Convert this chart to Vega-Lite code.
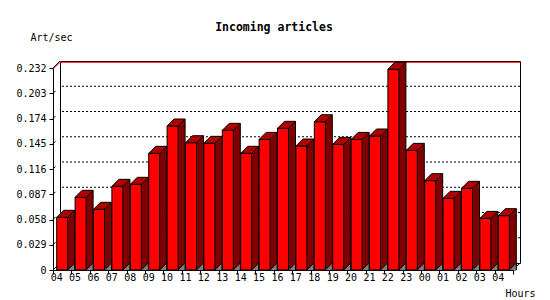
{
  "$schema": "https://vega.github.io/schema/vega-lite/v6.json",
  "width": 460,
  "height": 202,
  "autosize": "none",
  "padding": {"left": 60, "top": 61, "right": 30, "bottom": 37},
  "background": "white",
  "config": {
    "view": {"stroke": "black", "strokeWidth": 1, "fill": "white"},
    "font": "DejaVu Sans Mono"
  },
  "title": {
    "text": "Incoming articles",
    "font": "DejaVu Sans Mono",
    "fontSize": 11.5,
    "fontWeight": "bold",
    "color": "black",
    "anchor": "middle",
    "dx": -16,
    "baseline": "alphabetic",
    "offset": -10
  },
  "datasets": {
    "bars": [
      {"slot": 0, "hour": "04", "value": 0.0605},
      {"slot": 1, "hour": "05", "value": 0.0835},
      {"slot": 2, "hour": "06", "value": 0.0697},
      {"slot": 3, "hour": "07", "value": 0.0961},
      {"slot": 4, "hour": "08", "value": 0.0984},
      {"slot": 5, "hour": "09", "value": 0.134},
      {"slot": 6, "hour": "10", "value": 0.1654},
      {"slot": 7, "hour": "11", "value": 0.1462},
      {"slot": 8, "hour": "12", "value": 0.1455},
      {"slot": 9, "hour": "13", "value": 0.1604},
      {"slot": 10, "hour": "14", "value": 0.134},
      {"slot": 11, "hour": "15", "value": 0.150},
      {"slot": 12, "hour": "16", "value": 0.1627},
      {"slot": 13, "hour": "17", "value": 0.1424},
      {"slot": 14, "hour": "18", "value": 0.1703},
      {"slot": 15, "hour": "19", "value": 0.1443},
      {"slot": 16, "hour": "20", "value": 0.150},
      {"slot": 17, "hour": "21", "value": 0.1539},
      {"slot": 18, "hour": "22", "value": 0.2305},
      {"slot": 19, "hour": "23", "value": 0.1374},
      {"slot": 20, "hour": "00", "value": 0.1026},
      {"slot": 21, "hour": "01", "value": 0.0823},
      {"slot": 22, "hour": "02", "value": 0.0938},
      {"slot": 23, "hour": "03", "value": 0.0593},
      {"slot": 24, "hour": "04", "value": 0.0624}
    ],
    "ticks": [
      {"value": 0}, {"value": 0.029}, {"value": 0.058}, {"value": 0.087}, {"value": 0.116},
      {"value": 0.145}, {"value": 0.174}, {"value": 0.203}, {"value": 0.232}
    ]
  },
  "encoding": {
    "y": {
      "field": "value",
      "type": "quantitative",
      "scale": {"domain": [0, 0.232], "range": [209, 7], "nice": false, "zero": true},
      "axis": {
        "values": [0, 0.029, 0.058, 0.087, 0.116, 0.145, 0.174, 0.203, 0.232],
        "format": ".3~f",
        "offset": 7,
        "grid": false,
        "tickSize": 4,
        "tickColor": "black",
        "domainColor": "black",
        "labelPadding": 3,
        "labelFont": "DejaVu Sans Mono",
        "labelFontSize": 10,
        "labelColor": "black",
        "title": "Art/sec",
        "titleFont": "DejaVu Sans Mono",
        "titleFontSize": 10,
        "titleFontWeight": "normal",
        "titleColor": "black",
        "titleAngle": 0,
        "titleX": -23,
        "titleY": -21,
        "titleAlign": "left",
        "titleBaseline": "alphabetic"
      }
    }
  },
  "layer": [
    {
      "data": {"name": "ticks"},
      "transform": [{"filter": "datum.value > 0 && datum.value < 0.232"}],
      "mark": {"type": "rule", "color": "black", "strokeWidth": 1, "strokeDash": [2, 2], "yOffset": -7}
    },
    {
      "data": {"name": "ticks"},
      "transform": [{"filter": "datum.value > 0 && datum.value < 0.232"}],
      "mark": {"type": "point", "shape": "M -9.2 0 L -6.7 -2.5", "size": 4, "filled": false, "stroke": "black", "strokeWidth": 1, "opacity": 1},
      "encoding": {"x": {"datum": 0, "type": "ordinal"}}
    },
    {
      "data": {"name": "ticks"},
      "transform": [{"filter": "datum.value == 0 || datum.value == 0.232"}],
      "mark": {"type": "point", "shape": "M -9.2 0 L -2.2 -7", "size": 4, "filled": false, "stroke": "black", "strokeWidth": 1, "opacity": 1},
      "encoding": {"x": {"datum": 0, "type": "ordinal"}}
    },
    {
      "data": {"name": "ticks"},
      "transform": [{"filter": "datum.value == 0"}],
      "mark": {"type": "point", "shape": "M 9.2 0 L 16.2 -7", "size": 4, "filled": false, "stroke": "black", "strokeWidth": 1, "opacity": 1},
      "encoding": {"x": {"datum": 24, "type": "ordinal"}}
    },
    {
      "data": {"name": "bars"},
      "mark": {"type": "rule", "color": "#ff0000", "strokeWidth": 1, "yOffset": -7},
      "encoding": {"y": {"aggregate": "max", "field": "value", "type": "quantitative"}}
    },
    {
      "data": {"name": "bars"},
      "mark": {"type": "point", "shape": "M -9.2 0 L -2.2 -7", "size": 4, "filled": false, "stroke": "#ff0000", "strokeWidth": 1, "opacity": 1},
      "encoding": {
        "x": {"datum": 0, "type": "ordinal"},
        "y": {"aggregate": "max", "field": "value", "type": "quantitative"}
      }
    },
    {
      "data": {"name": "bars"},
      "encoding": {
        "x": {
          "field": "slot",
          "type": "ordinal",
          "scale": {"range": [-7, 453], "paddingInner": 0, "paddingOuter": 0},
          "axis": {
            "title": "Hours",
            "labelExpr": "['04','05','06','07','08','09','10','11','12','13','14','15','16','17','18','19','20','21','22','23','00','01','02','03','04'][datum.value]",
            "tickBand": "extent",
            "offset": 7,
            "labelAngle": 0,
            "tickSize": 4,
            "tickColor": "black",
            "domainColor": "black",
            "labelPadding": 3,
            "labelFont": "DejaVu Sans Mono",
            "labelFontSize": 10,
            "labelColor": "black",
            "grid": false,
            "titleFont": "DejaVu Sans Mono",
            "titleFontSize": 10,
            "titleFontWeight": "normal",
            "titleColor": "black",
            "titleX": 445,
            "titleY": 26,
            "titleAlign": "left",
            "titleBaseline": "alphabetic"
          }
        }
      },
      "layer": [
        {"mark": {"type": "bar", "width": 11, "fill": "#800000", "stroke": "black", "strokeWidth": 1, "xOffset": 7}},
        {"mark": {"type": "bar", "width": 11, "fill": "#ff0000", "stroke": "black", "strokeWidth": 1}},
        {"mark": {"type": "point", "shape": "M 5.5 0.6 L 5.5 0 L 12.5 -7 L 12.5 0.6 Z", "size": 4, "filled": true, "fill": "#800000", "strokeWidth": 0, "opacity": 1}},
        {"mark": {"type": "point", "shape": "M -5.5 0 L 5.5 0 L 12.5 -7 L 1.5 -7 Z", "size": 4, "filled": true, "fill": "#b00000", "stroke": "black", "strokeWidth": 1, "opacity": 1}},
        {"mark": {"type": "point", "shape": "M 12.5 -7 L 12.5 1", "size": 4, "filled": false, "stroke": "black", "strokeWidth": 1, "opacity": 1}},
        {
          "mark": {"type": "point", "shape": "M 5.5 0 L 12.5 0 L 12.5 -7 Z", "size": 4, "filled": true, "fill": "#808080", "strokeWidth": 0, "opacity": 1},
          "encoding": {"y": {"datum": 0, "type": "quantitative"}}
        },
        {
          "mark": {"type": "point", "shape": "M 5.5 0 L 12.5 -7 L 12.5 0", "size": 4, "filled": false, "stroke": "black", "strokeWidth": 1, "opacity": 1},
          "encoding": {"y": {"datum": 0, "type": "quantitative"}}
        }
      ]
    }
  ]
}
